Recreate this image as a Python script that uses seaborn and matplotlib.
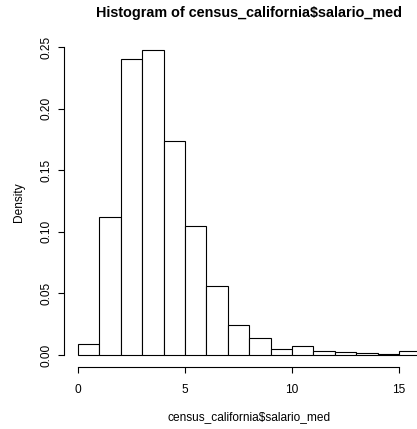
import matplotlib
matplotlib.use("Agg")
import matplotlib.pyplot as plt
import seaborn as sns
import numpy as np
import pandas as pd

# Bin edges (width 1) and densities
bin_edges = [0, 1, 2, 3, 4, 5, 6, 7, 8, 9, 10, 11, 12, 13, 14, 15, 16]
densities = [0.0089, 0.1123, 0.2400, 0.2476, 0.1740, 0.1047, 0.0563, 0.0246,
             0.0140, 0.0046, 0.0076, 0.0030, 0.0024, 0.0015, 0.0010, 0.0030]
x_ticks = [0, 5, 10, 15]
y_ticks = [0.00, 0.05, 0.10, 0.15, 0.20, 0.25]
y_tick_labels = ["0.00", "0.05", "0.10", "0.15", "0.20", "0.25"]
title = "Histogram of census_california$salario_med"
xlabel = "census_california$salario_med"
ylabel = "Density"

sns.set_style("white")
plt.rcParams["font.family"] = ["Liberation Sans", "DejaVu Sans"]
plt.rcParams["text.color"] = "black"
plt.rcParams["axes.labelcolor"] = "black"
plt.rcParams["xtick.color"] = "black"
plt.rcParams["ytick.color"] = "black"

df = pd.DataFrame({
    "mid": [(a + b) / 2 for a, b in zip(bin_edges[:-1], bin_edges[1:])],
    "dens": densities,
})

fig = plt.figure(figsize=(4.17, 4.29), dpi=100)
ax = fig.add_axes([0.1542, 0.1441, 0.8866, 0.7678])

sns.histplot(data=df, x="mid", weights="dens", bins=bin_edges, stat="count",
             color="white", edgecolor="black", linewidth=0.8, alpha=1, ax=ax)

ax.set_xlim(-0.64, 16.64)
ax.set_ylim(-0.0099, 0.2575)

for s in ["top", "right"]:
    ax.spines[s].set_visible(False)
ax.spines["left"].set_bounds(0, 0.25)
ax.spines["bottom"].set_bounds(0, 15)
for s in ["left", "bottom"]:
    ax.spines[s].set_linewidth(0.8)
    ax.spines[s].set_color("black")

ax.set_xticks(x_ticks)
ax.set_xticklabels([str(t) for t in x_ticks], fontsize=8.6)
ax.set_yticks(y_ticks)
ax.set_yticklabels(y_tick_labels, fontsize=8.6, rotation=90, va="center")
ax.tick_params(axis="both", direction="out", length=4.3, width=0.8, colors="black")
ax.tick_params(axis="x", pad=8, bottom=True)
ax.tick_params(axis="y", pad=4, left=True)

ax.set_xlabel(xlabel, fontsize=8.6, labelpad=11, color="black")
ax.set_ylabel(ylabel, fontsize=8.6, labelpad=11, color="black")
fig.text(0.597, 0.970, title, ha="center", va="center", fontsize=10.4,
         fontweight="bold", color="black")

fig.savefig("out.png", dpi=100, facecolor="white")
